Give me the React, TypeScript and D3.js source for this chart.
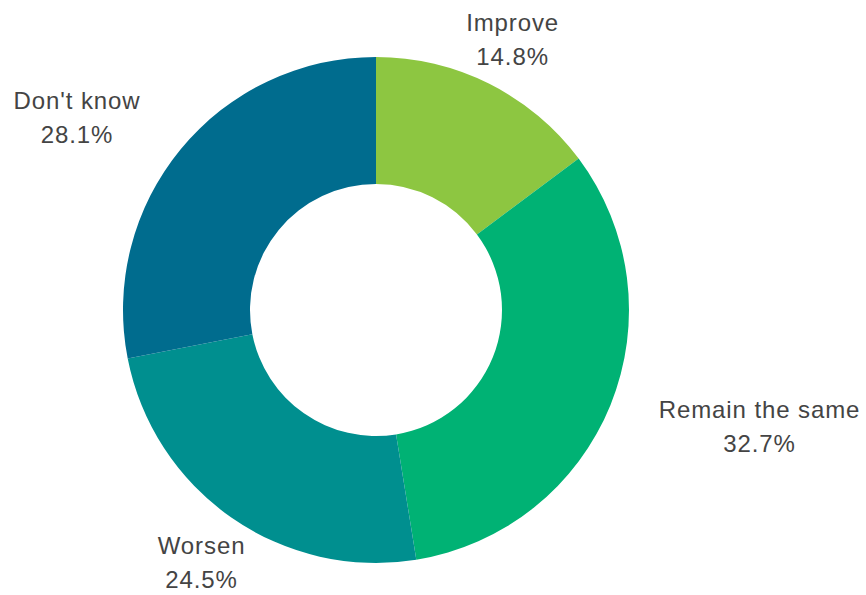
import React from "react";
import * as d3 from "d3";

const categories = ["Improve", "Remain the same", "Worsen", "Don't know"];
const values = [14.8, 32.7, 24.5, 28.1];
const colors = ["#8dc641", "#00b274", "#008f8f", "#006c8e"];

const W = 866;
const H = 595;
const FONT_SIZE = 24;
const LETTER_SPACING = 0.9;
const FONT = `${FONT_SIZE}px 'Liberation Sans', Arial, sans-serif`;

let ctx: CanvasRenderingContext2D | null = null;
function measure(t: string): number {
  if (!ctx) {
    const c = document.createElement("canvas");
    ctx = c.getContext("2d");
  }
  if (!ctx) return t.length * FONT_SIZE * 0.55;
  ctx.font = FONT;
  return ctx.measureText(t).width + LETTER_SPACING * t.length;
}

export default function App() {
  const cx = 376;
  const cy = 310;
  const outerR = 253;
  const innerR = 126;
  const labelR = 305;

  const data = categories.map((c, i) => ({ label: c, value: values[i], color: colors[i] }));
  const pie = d3.pie<any>().value((d) => d.value).sort(null);
  const arcs = pie(data);
  const arcGen = d3.arc<any>().innerRadius(innerR).outerRadius(outerR);

  return (
    <div style={{ position: "absolute", left: 0, top: 0 }}>
      <svg width={W} height={H} style={{ display: "block" }}>
        <rect width={W} height={H} fill="#ffffff" />
        <g transform={`translate(${cx},${cy})`}>
          {arcs.map((a, i) => (
            <path key={i} d={arcGen(a) as string} fill={a.data.color} />
          ))}
          {arcs.map((a, i) => {
            const mid = (a.startAngle + a.endAngle) / 2;
            const x = labelR * Math.sin(mid);
            const y = -labelR * Math.cos(mid);
            const s = Math.sin(mid);
            const l1 = a.data.label;
            const l2 = a.data.value.toFixed(1) + "%";
            const bw = Math.max(measure(l1), measure(l2));
            let center = x;
            if (Math.abs(s) >= 0.65) center = s > 0 ? x + bw / 2 : x - bw / 2;
            return (
              <text
                key={"t" + i}
                textAnchor="middle"
                fontFamily="'Liberation Sans', Arial, sans-serif"
                fontSize={FONT_SIZE}
                letterSpacing={LETTER_SPACING}
                fill="#444444"
              >
                <tspan x={center} y={y - 13} dominantBaseline="middle">{l1}</tspan>
                <tspan x={center} y={y + 21} dominantBaseline="middle">{l2}</tspan>
              </text>
            );
          })}
        </g>
      </svg>
    </div>
  );
}
